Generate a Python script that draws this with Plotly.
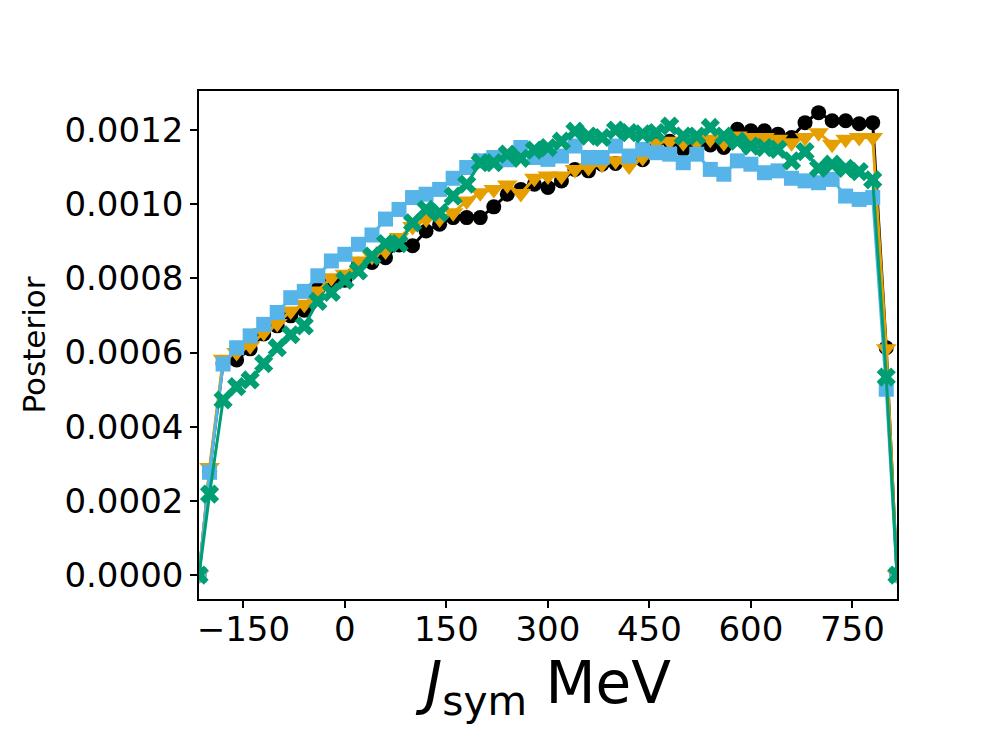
import plotly.graph_objects as go

# x grid: edge points plus bin centres (MeV)
x_vals = [-215.6] + list(range(-200, 801, 20)) + [815.9]

black_vals = [0.0,
    0.00028, 0.00057, 0.00058, 0.00061, 0.00065, 0.000672, 0.000699, 0.000714, 0.000771, 0.000789,
    0.000795, 0.000838, 0.000843, 0.000856, 0.00089, 0.000888, 0.000928, 0.000946, 0.000964, 0.000964,
    0.000964, 0.000993, 0.001027, 0.00104, 0.001054, 0.001045, 0.001063, 0.001094, 0.00109, 0.001108,
    0.00111, 0.001117, 0.00112, 0.00117, 0.00117, 0.001148, 0.001162, 0.00116, 0.001153, 0.001202,
    0.001198, 0.001198, 0.001189, 0.00118, 0.00122, 0.001247, 0.001225, 0.001225, 0.001217, 0.00122,
    0.000613, 0.0]

orange_vals = [0.0,
    0.00029, 0.000582, 0.0006, 0.000618, 0.000654, 0.000678, 0.000712, 0.00073, 0.000766, 0.000802,
    0.000811, 0.000847, 0.00086, 0.000874, 0.00091, 0.00094, 0.00096, 0.00096, 0.000977, 0.001009,
    0.001031, 0.00104, 0.001052, 0.001029, 0.00107, 0.001076, 0.001076, 0.001094, 0.001099, 0.001108,
    0.001117, 0.001103, 0.001126, 0.001166, 0.00117, 0.001166, 0.001166, 0.001175, 0.001166, 0.001184,
    0.00118, 0.00118, 0.001175, 0.001166, 0.00118, 0.001193, 0.001162, 0.001175, 0.00118, 0.00118,
    0.00061, 0.0]

blue_vals = [0.0,
    0.000277, 0.000569, 0.000613, 0.000645, 0.000676, 0.000708, 0.000748, 0.000765, 0.000807, 0.000847,
    0.000865, 0.000892, 0.000917, 0.00096, 0.000986, 0.001018, 0.001027, 0.00104, 0.00107, 0.001099,
    0.001117, 0.001126, 0.00112, 0.001153, 0.001126, 0.001121, 0.00113, 0.001157, 0.001126, 0.001126,
    0.001157, 0.00113, 0.001148, 0.001139, 0.001135, 0.001112, 0.001135, 0.001094, 0.001081, 0.001117,
    0.001108, 0.001085, 0.00109, 0.00107, 0.001063, 0.001058, 0.001067, 0.001022, 0.001013, 0.001018,
    0.000501, 0.0]

green_vals = [0.0,
    0.000218, 0.000472, 0.000508, 0.000526, 0.00057, 0.000613, 0.000648, 0.000672, 0.000738, 0.000762,
    0.000795, 0.00082, 0.00086, 0.000894, 0.000894, 0.00095, 0.000986, 0.000977, 0.001022, 0.001054,
    0.001112, 0.001112, 0.001135, 0.001124, 0.001146, 0.001153, 0.00117, 0.001197, 0.001184, 0.00118,
    0.0012, 0.001193, 0.00119, 0.001193, 0.001211, 0.001184, 0.001184, 0.001207, 0.001184, 0.00117,
    0.001157, 0.001153, 0.001148, 0.001117, 0.001142, 0.001097, 0.001108, 0.001097, 0.001088, 0.001066,
    0.000534, 0.0]

x_tick_vals = [-150, 0, 150, 300, 450, 600, 750]
x_tick_text = ["\u2212150", "0", "150", "300", "450", "600", "750"]
y_tick_vals = [0.0, 0.0002, 0.0004, 0.0006, 0.0008, 0.0010, 0.0012]
y_tick_text = ["0.0000", "0.0002", "0.0004", "0.0006", "0.0008", "0.0010", "0.0012"]

series = [
    ("black", black_vals, "#000000", "circle", 15),
    ("orange", orange_vals, "#E69F00", "triangle-down", 18),
    ("blue", blue_vals, "#56B4E9", "square", 15),
    ("green", green_vals, "#009E73", "x", 17),
]

fig = go.Figure()
for name, vals, col, sym, sz in series:
    fig.add_trace(go.Scatter(
        x=x_vals, y=vals, mode="lines+markers", name=name,
        line=dict(color=col, width=3),
        marker=dict(color=col, symbol=sym, size=sz, line=dict(width=0)),
        cliponaxis=True, showlegend=False,
    ))

axis_common = dict(
    showgrid=False, zeroline=False, showline=True, linecolor="black", linewidth=1.6,
    mirror=True, ticks="outside", ticklen=7, tickwidth=1.6, tickcolor="black",
    tickfont=dict(family="DejaVu Sans", size=34, color="black"),
)

fig.update_layout(
    width=996, height=747,
    margin=dict(l=191, r=107, t=83, b=156),
    paper_bgcolor="white", plot_bgcolor="white",
    font=dict(family="DejaVu Sans", color="black"),
    xaxis=dict(
        range=[-215.6, 815.9], tickmode="array", tickvals=x_tick_vals, ticktext=x_tick_text,
        ticklabelstandoff=-8,
        title=dict(text="<i>J</i><sub>sym</sub> MeV", font=dict(family="DejaVu Sans", size=58), standoff=0),
        **axis_common,
    ),
    yaxis=dict(
        range=[-0.0000647, 0.0013054], tickmode="array", tickvals=y_tick_vals, ticktext=y_tick_text,
        title=dict(text="Posterior", font=dict(family="DejaVu Sans", size=31), standoff=10),
        **axis_common,
    ),
)

fig.write_html("out.html")
